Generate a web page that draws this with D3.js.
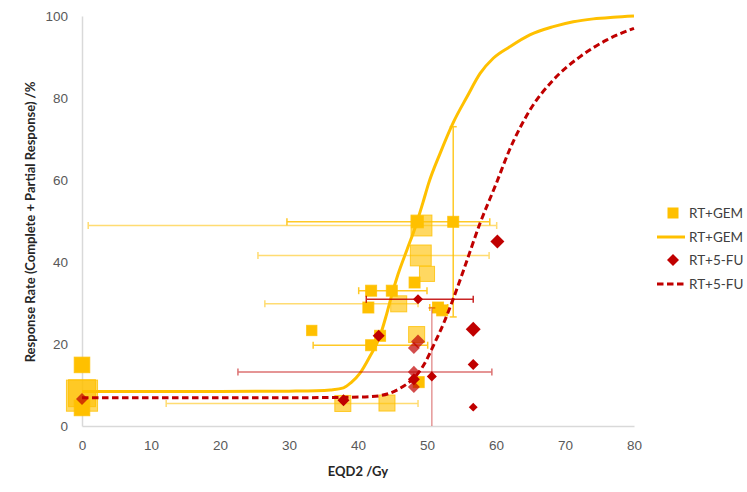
<!DOCTYPE html>
<html>
<head>
<meta charset="utf-8">
<script src="https://cdn.jsdelivr.net/npm/d3@7"></script>
<style>
  body { margin: 0; background: #fff; }
  svg { font-family: Lato, "Open Sans", sans-serif; }
  .tick text { fill: #595959; font-size: 13.5px; }
  .axisTitle { fill: #262626; font-size: 13px; font-weight: bold; }
  .legText { fill: #404040; font-size: 13.5px; }
</style>
</head>
<body>
<div id="chart"></div>
<script>
// RT+GEM studies
var gemX = [0, 0, 0, 0, 33.3, 41.9, 43.2, 48.5, 37.8, 44.2, 48.8, 48.6, 49.2, 53.8, 49.1, 50.0, 48.2, 41.9, 44.9, 45.9, 41.5, 51.6, 52.2];
var gemY = [14.9, 8.0, 7.4, 4.4, 23.3, 19.7, 22.0, 22.3, 5.5, 5.6, 10.7, 49.8, 48.9, 49.8, 41.6, 37.1, 35.0, 33.0, 33.0, 29.8, 28.9, 28.9, 28.2];
var gemN = [50, 150, 200, 50, 22, 25, 25, 53, 53, 53, 25, 30, 90, 25, 90, 47, 25, 25, 25, 53, 25, 25, 25];
var gemDesign = ["P", "R", "R", "P", "P", "P", "P", "R", "R", "R", "P", "P", "R", "P", "R", "R", "P", "P", "P", "R", "P", "P", "P"];
var gemXLo = [null, null, null, null, null, 33.5, null, null, 12.2, null, null, 29.7, 0.9, null, 25.5, null, null, null, 40.1, 26.5, null, 50.4, null];
var gemXHi = [null, null, null, null, null, 50.1, null, null, 48.7, null, null, 59.1, 60.1, null, 59.0, null, null, null, 50.0, 48.7, null, 53.0, null];
var gemYLo = [null, null, null, null, null, null, null, null, null, null, null, null, null, 26.6, null, null, null, null, null, null, null, null, null];
var gemYHi = [null, null, null, null, null, null, null, null, null, null, null, null, null, 73.0, null, null, null, null, null, null, null, null, null];

// RT+5-FU studies
var fuX = [0, 37.9, 43.0, 48.7, 48.7, 48.1, 48.1, 48.1, 48.1, 50.7, 56.7, 56.7, 56.7, 60.2];
var fuY = [6.6, 6.3, 22.0, 30.9, 20.6, 19.0, 13.2, 11.4, 9.5, 12.1, 23.6, 15.0, 4.6, 45.0];
var fuN = [40, 40, 40, 28, 54, 40, 40, 40, 40, 28, 62, 34, 22, 54];
var fuDesign = ["R", "P", "P", "P", "R", "R", "R", "P", "R", "P", "P", "P", "P", "P"];
var fuXLo = [null, null, null, 41.2, null, null, 22.6, null, null, null, null, null, null, null];
var fuXHi = [null, null, null, 56.7, null, null, 59.4, null, null, null, null, null, null, null];
var fuYLo = [null, null, null, null, null, null, null, null, null, 0, null, null, null, null];
var fuYHi = [null, null, null, null, null, null, null, null, null, 28.8, null, null, null, null];

// fitted dose-response curves
var gemCurveX = [0, 10, 20, 30, 34, 36, 37.9, 39, 40.3, 41.7, 43.2, 44.1, 44.9, 45.8, 47.1, 48.3, 49.5, 50.2, 51.9, 53.8, 55.8, 57.7, 59.6, 62, 64.9, 68.3, 71.2, 74.1, 77, 80];
var gemCurveY = [8.4, 8.4, 8.4, 8.5, 8.6, 8.8, 9.3, 10.6, 12.9, 16.9, 22.0, 27.0, 32.0, 37.0, 43.0, 48.5, 55.0, 59.0, 66.5, 74.0, 80.3, 86.0, 89.7, 92.5, 95.4, 97.4, 98.6, 99.3, 99.7, 100];
var fuCurveX = [0, 10, 20, 30, 38, 41, 43.2, 44.6, 46.1, 47.5, 48.5, 49.9, 50.9, 52.4, 53.8, 55.3, 57.7, 60, 62, 64.9, 68.3, 72.2, 76, 80];
var fuCurveY = [6.9, 6.9, 6.9, 6.9, 7.0, 7.1, 7.4, 8.0, 9.2, 10.8, 12.4, 16.0, 19.5, 25.0, 31.0, 38.0, 49.5, 59.0, 67.5, 77.0, 84.4, 90.1, 94.1, 97.0];

var xTicks = [0, 10, 20, 30, 40, 50, 60, 70, 80];
var yTicks = [0, 20, 40, 60, 80, 100];
var legendLabels = ["RT+GEM", "RT+GEM", "RT+5-FU", "RT+5-FU"];

var svgWidth = 747;
var svgHeight = 492;
var margin = { left: 82, right: 113, top: 16, bottom: 66 };
var width = svgWidth - margin.left - margin.right;
var height = svgHeight - margin.top - margin.bottom;

var gold = "#FFC000";
var red = "#C00000";

var svg = d3.select("#chart")
  .append("svg")
  .attr("width", svgWidth)
  .attr("height", svgHeight);

var chartGroup = svg.append("g")
  .attr("transform", `translate(${margin.left}, ${margin.top})`);

var xScale = d3.scaleLinear().domain([0, 80]).range([0, width]);
var yScale = d3.scaleLinear().domain([0, 100]).range([height, 0]);
var opac = d3.scaleOrdinal().domain(["P", "R"]).range([1, 0.62]);
var barOpac = d3.scaleOrdinal().domain(["P", "R"]).range([0.85, 0.55]);

// axes
var xAxis = d3.axisBottom(xScale).tickValues(xTicks).tickSize(0).tickPadding(14);
var yAxis = d3.axisLeft(yScale).tickValues(yTicks).tickSize(0).tickPadding(14);

var gx = chartGroup.append("g")
  .attr("transform", "translate(0," + height + ")")
  .call(xAxis);
var gy = chartGroup.append("g").call(yAxis);
gx.select(".domain").attr("stroke", "#d9d9d9").attr("stroke-width", 1.5);
gy.select(".domain").attr("stroke", "#d9d9d9").attr("stroke-width", 1.5);

// error bars
function toRows(xs, ys, ns, ds, xlo, xhi, ylo, yhi) {
  return xs.map(function(x, i) {
    return { x: x, y: ys[i], n: ns[i], d: ds[i], xlo: xlo[i], xhi: xhi[i], ylo: ylo[i], yhi: yhi[i] };
  });
}
var gemData = toRows(gemX, gemY, gemN, gemDesign, gemXLo, gemXHi, gemYLo, gemYHi);
var fuData = toRows(fuX, fuY, fuN, fuDesign, fuXLo, fuXHi, fuYLo, fuYHi);

function drawBars(data, color, yBarOpacity) {
  var g = chartGroup.append("g").attr("stroke", color).attr("stroke-width", 1.5).attr("fill", "none");
  data.filter(d => d.xlo !== null).forEach(function(d) {
    var b = g.append("g").attr("opacity", barOpac(d.d));
    var yy = yScale(d.y);
    b.append("line").attr("x1", xScale(d.xlo)).attr("x2", xScale(d.xhi)).attr("y1", yy).attr("y2", yy);
    b.append("line").attr("x1", xScale(d.xlo)).attr("x2", xScale(d.xlo)).attr("y1", yy - 3.5).attr("y2", yy + 3.5);
    b.append("line").attr("x1", xScale(d.xhi)).attr("x2", xScale(d.xhi)).attr("y1", yy - 3.5).attr("y2", yy + 3.5);
  });
  data.filter(d => d.ylo !== null).forEach(function(d) {
    var b = g.append("g").attr("opacity", yBarOpacity);
    var xx = xScale(d.x);
    b.append("line").attr("x1", xx).attr("x2", xx).attr("y1", yScale(d.ylo)).attr("y2", yScale(d.yhi));
    if (d.ylo > 0) b.append("line").attr("x1", xx - 3.5).attr("x2", xx + 3.5).attr("y1", yScale(d.ylo)).attr("y2", yScale(d.ylo));
    b.append("line").attr("x1", xx - 3.5).attr("x2", xx + 3.5).attr("y1", yScale(d.yhi)).attr("y2", yScale(d.yhi));
  });
}
drawBars(gemData, gold, 0.85);

// GEM squares
var side = n => 2.2 * Math.sqrt(n);
chartGroup.append("g").selectAll("rect").data(gemData).enter()
  .append("rect")
  .attr("x", d => xScale(d.x) - side(d.n) / 2)
  .attr("y", d => yScale(d.y) - side(d.n) / 2)
  .attr("width", d => side(d.n))
  .attr("height", d => side(d.n))
  .attr("fill", gold)
  .attr("fill-opacity", d => opac(d.d))
  .attr("stroke", gold)
  .attr("stroke-opacity", 0.8)
  .attr("stroke-width", 1);

// curves
var line = d3.line().x(d => xScale(d[0])).y(d => yScale(d[1])).curve(d3.curveMonotoneX);
chartGroup.append("path")
  .datum(gemCurveX.map((x, i) => [x, gemCurveY[i]]))
  .attr("d", line)
  .attr("fill", "none")
  .attr("stroke", gold)
  .attr("stroke-width", 3);

drawBars(fuData, red, 0.4);

chartGroup.append("path")
  .datum(fuCurveX.map((x, i) => [x, fuCurveY[i]]))
  .attr("d", line)
  .attr("fill", "none")
  .attr("stroke", red)
  .attr("stroke-width", 3)
  .attr("stroke-dasharray", "6.5,3.5");

// FU diamonds
var dia = n => 0.95 * Math.sqrt(n);
chartGroup.append("g").selectAll("path").data(fuData).enter()
  .append("path")
  .attr("d", function(d) {
    var cx = xScale(d.x), cy = yScale(d.y), r = dia(d.n);
    return `M${cx},${cy - r}L${cx + r},${cy}L${cx},${cy + r}L${cx - r},${cy}Z`;
  })
  .attr("fill", red)
  .attr("fill-opacity", d => d.d === "R" ? 0.7 : 1);

// axis titles
svg.append("text")
  .attr("class", "axisTitle")
  .attr("x", margin.left + width / 2)
  .attr("y", 476)
  .attr("text-anchor", "middle")
  .text("EQD2 /Gy");

svg.append("text")
  .attr("class", "axisTitle")
  .attr("transform", "translate(35," + 222 + ") rotate(-90)")
  .attr("text-anchor", "middle")
  .text("Response Rate (Complete  + Partial Response) /%");

// legend
var leg = svg.append("g").attr("transform", "translate(673,0)");
var legY = [213, 237, 260, 284];
leg.append("rect").attr("x", -5.5).attr("y", legY[0] - 5.5).attr("width", 11).attr("height", 11).attr("fill", gold);
leg.append("line").attr("x1", -16).attr("x2", 12).attr("y1", legY[1]).attr("y2", legY[1]).attr("stroke", gold).attr("stroke-width", 3);
leg.append("path").attr("d", `M0,${legY[2] - 6}L6,${legY[2]}L0,${legY[2] + 6}L-6,${legY[2]}Z`).attr("fill", red);
leg.append("line").attr("x1", -16).attr("x2", 12).attr("y1", legY[3]).attr("y2", legY[3])
  .attr("stroke", red).attr("stroke-width", 3).attr("stroke-dasharray", "6.5,3.5");
leg.selectAll("text.legText").data(legendLabels).enter()
  .append("text")
  .attr("class", "legText")
  .attr("x", 16)
  .attr("y", (d, i) => legY[i])
  .attr("dy", "0.35em")
  .text(d => d);
</script>
</body>
</html>
